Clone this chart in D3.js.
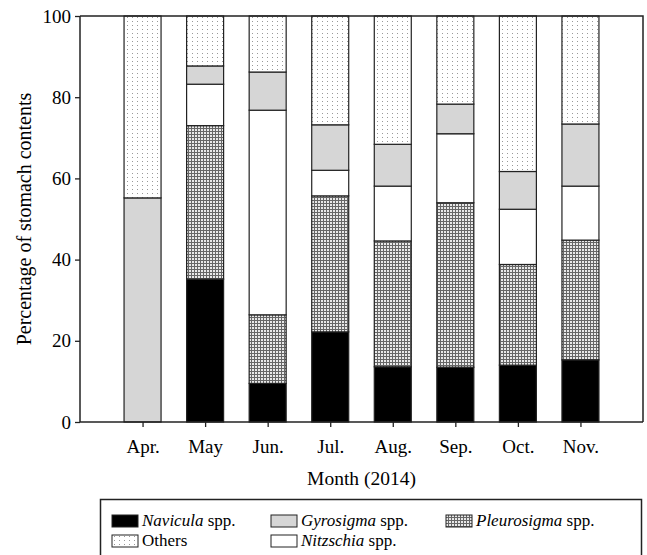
<!DOCTYPE html>
<html>
<head>
<meta charset="utf-8">
<script src="https://cdn.jsdelivr.net/npm/d3@7/dist/d3.min.js"></script>
<style>
  html, body { margin: 0; padding: 0; background: #fff; }
  svg { display: block; font-family: "Liberation Serif", "Times New Roman", serif; }
</style>
</head>
<body>
<svg id="chart" width="647" height="555"></svg>
<script>
// Diet composition by month, percentage of stomach contents
const months = ["Apr.", "May", "Jun.", "Jul.", "Aug.", "Sep.", "Oct.", "Nov."];
const navicula    = [0,    35.2,  9.5, 22.2, 13.6, 13.5, 14.0, 15.3];
const pleurosigma = [0,    37.8, 16.9, 33.5, 31.0, 40.5, 24.8, 29.5];
const nitzschia   = [0,    10.2, 50.4,  6.3, 13.5, 17.0, 13.6, 13.3];
const gyrosigma   = [55.2,  4.5,  9.4, 11.2, 10.3,  7.3,  9.3, 15.3];
const others      = [44.8, 12.3, 13.8, 26.8, 31.6, 21.7, 38.3, 26.6];
const yTicks = [0, 20, 40, 60, 80, 100];

(function () {
  const keys = ["Navicula", "Pleurosigma", "Nitzschia", "Gyrosigma", "Others"];
  const seriesValues = { Navicula: navicula, Pleurosigma: pleurosigma, Nitzschia: nitzschia, Gyrosigma: gyrosigma, Others: others };
  const rows = months.map((m, i) => {
    const r = { month: m };
    keys.forEach(k => { r[k] = seriesValues[k][i]; });
    return r;
  });

  const svg = d3.select("#chart");
  const plotL = 80, plotR = 643, plotT = 16, plotB = 422;
  const ink = "#222";

  // Fill patterns
  const defs = svg.append("defs");
  const dots = defs.append("pattern").attr("id", "pat-others")
    .attr("patternUnits", "userSpaceOnUse").attr("width", 5).attr("height", 4);
  dots.append("rect").attr("width", 5).attr("height", 4).attr("fill", "#fff");
  dots.append("rect").attr("x", 2).attr("y", 1).attr("width", 1).attr("height", 1).attr("fill", "#999");

  const grid = defs.append("pattern").attr("id", "pat-pleuro")
    .attr("patternUnits", "userSpaceOnUse").attr("width", 3).attr("height", 3);
  grid.append("rect").attr("width", 3).attr("height", 3).attr("fill", "#666");
  grid.append("rect").attr("width", 2).attr("height", 2).attr("fill", "#e8e8e8");

  const fills = {
    Navicula: "#000",
    Pleurosigma: "url(#pat-pleuro)",
    Nitzschia: "#fff",
    Gyrosigma: "#d6d6d6",
    Others: "url(#pat-others)"
  };

  const x = d3.scalePoint().domain(months).range([plotL, plotR]).padding(1);
  const y = d3.scaleLinear().domain([0, 100]).range([plotB, plotT]);
  const barW = 37;

  const stacked = d3.stack().keys(keys)(rows);

  // Bars
  const layers = svg.append("g").selectAll("g").data(stacked).join("g")
    .attr("fill", d => fills[d.key]);
  layers.selectAll("rect")
    .data(d => d.filter(s => s[1] - s[0] > 0))
    .join("rect")
    .attr("x", d => x(d.data.month) - barW / 2)
    .attr("y", d => y(d[1]))
    .attr("width", barW)
    .attr("height", d => y(d[0]) - y(d[1]))
    .attr("stroke", ink)
    .attr("stroke-width", 1.2);

  // Frame
  svg.append("path")
    .attr("d", `M${plotL},${plotT}H${plotR}V${plotB}`)
    .attr("fill", "none").attr("stroke", ink).attr("stroke-width", 1.5);

  // Axes
  const yAxis = svg.append("g").attr("transform", `translate(${plotL},0)`)
    .call(d3.axisLeft(y).tickValues(yTicks).tickSize(5).tickPadding(4));
  const xAxis = svg.append("g").attr("transform", `translate(0,${plotB})`)
    .call(d3.axisBottom(x).tickSize(5).tickPadding(13));
  [yAxis, xAxis].forEach(g => {
    g.select(".domain").attr("stroke", ink).attr("stroke-width", 1.5);
    g.selectAll(".tick line").attr("stroke", ink).attr("stroke-width", 1.3);
    g.selectAll(".tick text").attr("fill", "#000")
      .style("font-family", "'Liberation Serif', serif").style("font-size", "19px");
  });
  xAxis.select(".domain").attr("d", `M${plotL},0H${plotR}`);
  yAxis.select(".domain").attr("d", `M0,${plotB}V${plotT}`);

  // Axis titles
  svg.append("text")
    .attr("transform", `translate(31,${(plotT + plotB) / 2}) rotate(-90)`)
    .attr("text-anchor", "middle").attr("fill", "#000").style("font-size", "20px")
    .text("Percentage of stomach contents");
  svg.append("text")
    .attr("x", (plotL + plotR) / 2).attr("y", 485)
    .attr("text-anchor", "middle").attr("fill", "#000").style("font-size", "19.5px")
    .text("Month (2014)");

  // Legend
  const legendItems = [
    { key: "Navicula", name: "Navicula", col: 0, row: 0 },
    { key: "Gyrosigma", name: "Gyrosigma", col: 1, row: 0 },
    { key: "Pleurosigma", name: "Pleurosigma", col: 2, row: 0 },
    { key: "Others", name: null, col: 0, row: 1 },
    { key: "Nitzschia", name: "Nitzschia", col: 1, row: 1 }
  ];
  const legend = svg.append("g");
  legend.append("rect")
    .attr("x", 100.5).attr("y", 499.5).attr("width", 541).attr("height", 70)
    .attr("fill", "#fff").attr("stroke", ink).attr("stroke-width", 1.5);
  const colX = [112, 271, 446];
  const rowY = [515, 535];
  const item = legend.selectAll("g.item").data(legendItems).join("g").attr("class", "item")
    .attr("transform", d => `translate(${colX[d.col]},${rowY[d.row]})`);
  item.append("rect")
    .attr("width", 26).attr("height", 12)
    .attr("fill", d => fills[d.key]).attr("stroke", ink).attr("stroke-width", 1);
  const label = item.append("text").attr("x", 30).attr("y", 11)
    .attr("fill", "#000").style("font-size", "17px");
  label.each(function (d) {
    const t = d3.select(this);
    if (d.name) {
      t.append("tspan").style("font-style", "italic").text(d.name);
      t.append("tspan").text(" spp.");
    } else {
      t.text("Others");
    }
  });
})();
</script>
</body>
</html>
